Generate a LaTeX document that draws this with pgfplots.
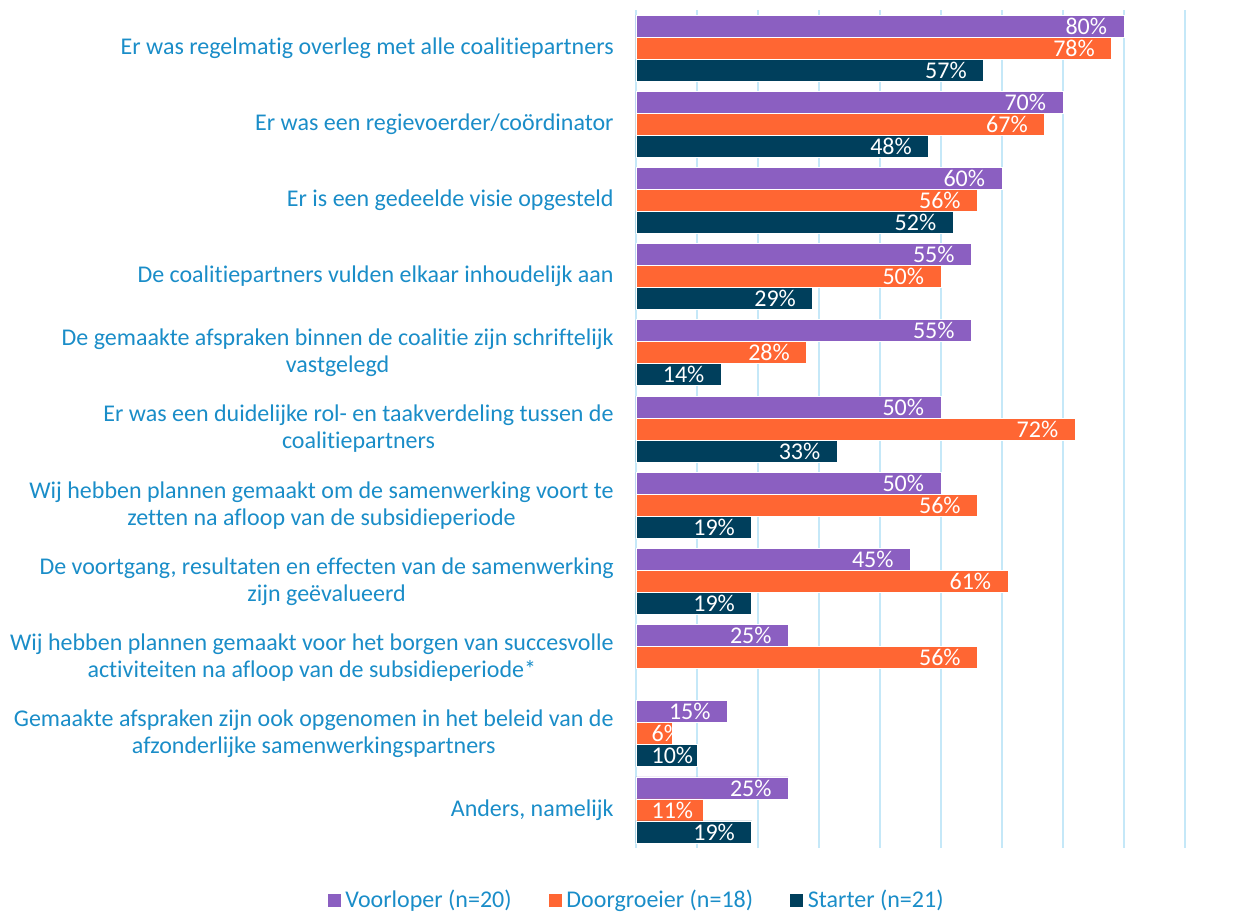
\documentclass[border=0pt]{standalone}
\usepackage{pgfplots}
\pgfplotsset{compat=1.18}
\usepackage{fontspec}
\setmainfont{Carlito}[Ligatures=NoCommon]
\definecolor{voor}{HTML}{8B5FC1}
\definecolor{door}{HTML}{FF6633}
\definecolor{start}{HTML}{003F5C}
\definecolor{lbl}{HTML}{1A8DC8}
\definecolor{grd}{HTML}{C5E8F8}
\pgfplotsset{sq/.style={legend image code/.code={\fill[##1] (-3pt,-3.5pt) rectangle (4pt,3.5pt);}}}
% label inside the bar end; short bars: label starts 8pt after the bar start
\newcommand\lbltext{\pgfmathprintnumber[assume math mode=true]{\pgfplotspointmeta}\%}
\newcommand\barlbl{%
  \pgfkeys{/pgf/fpu=true,/pgf/fpu/output format=fixed}%
  \pgfmathparse{\pgfplotspointmeta*3.05-8}\let\bl\pgfmathresult
  \pgfmathparse{\pgfplotspointmeta<12}\let\isshort\pgfmathresult
  \pgfkeys{/pgf/fpu=false}%
  \ifdim\isshort pt>0.5pt \makebox[\bl pt][l]{\lbltext}\else\lbltext\hspace*{8.3pt}\fi}
\begin{document}
\begin{tikzpicture}
\begin{axis}[
  anchor=south west, at={(0pt,0pt)},
  scale only axis, width=274.5pt, height=419pt,
  xbar, bar width=11pt, clip=false,
  xmin=0, xmax=90, ymin=-0.5, ymax=10.5,
  xtick={0,10,...,90}, xticklabels={},
  xmajorgrids, grid style={grd, line width=0.8pt},
  major tick length=0pt,
  axis line style={draw=none},
  ytick={0,...,10},
  yticklabels={
    {Anders, namelijk},
    {Gemaakte afspraken zijn ook opgenomen in het beleid van de\\afzonderlijke samenwerkingspartners},
    {Wij hebben plannen gemaakt voor het borgen van succesvolle\\activiteiten na afloop van de subsidieperiode*},
    {De voortgang, resultaten en effecten van de samenwerking\\zijn geëvalueerd},
    {Wij hebben plannen gemaakt om de samenwerking voort te\\zetten na afloop van de subsidieperiode},
    {Er was een duidelijke rol- en taakverdeling tussen de\\coalitiepartners},
    {De gemaakte afspraken binnen de coalitie zijn schriftelijk\\vastgelegd},
    {De coalitiepartners vulden elkaar inhoudelijk aan},
    {Er is een gedeelde visie opgesteld},
    {Er was een regievoerder/coördinator},
    {Er was regelmatig overleg met alle coalitiepartners}},
  yticklabel style={align=center, lbl, font=\fontsize{12}{13.5}\selectfont, inner sep=0pt, xshift=-11pt},
  nodes near coords={\barlbl},
  every node near coord/.append style={white, anchor=east, inner sep=0pt,
    font=\fontsize{12}{13}\selectfont},
  legend columns=3,
  legend style={at={(0.002,0)}, anchor=center, yshift=-26pt, draw=none, fill=none,
    font=\fontsize{12}{13}\selectfont, text=lbl,
    /tikz/every even column/.append style={column sep=16pt}},
  legend cell align=left,
]
\addplot[sq, fill=voor, draw=white, line width=0.4pt, bar shift=11pt] coordinates {
  (80,10) (70,9) (60,8) (55,7) (55,6) (50,5) (50,4) (45,3) (25,2) (15,1) (25,0) };
\addlegendentry{Voorloper (n=20)}
\addplot[sq, fill=door, draw=white, line width=0.4pt, bar shift=0pt] coordinates {
  (78,10) (67,9) (56,8) (50,7) (28,6) (72,5) (56,4) (61,3) (56,2) (6,1) (11,0) };
\addlegendentry{Doorgroeier (n=18)}
\addplot[sq, fill=start, draw=white, line width=0.4pt, bar shift=-11pt] coordinates {
  (57,10) (48,9) (52,8) (29,7) (14,6) (33,5) (19,4) (19,3) (10,1) (19,0) };
\addlegendentry{Starter (n=21)}
\end{axis}
\pgfresetboundingbox
\useasboundingbox (-318pt,-32pt) rectangle (304.5pt,424pt);
\end{tikzpicture}
\end{document}
